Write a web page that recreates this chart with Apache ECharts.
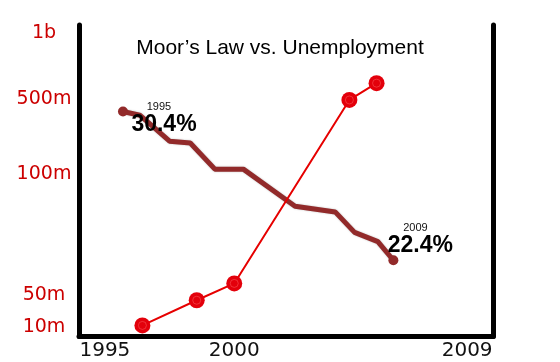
<!DOCTYPE html>
<html>
<head>
<meta charset="utf-8">
<script src="https://cdn.jsdelivr.net/npm/echarts@6/dist/echarts.min.js"></script>
<style>
  html, body { margin: 0; padding: 0; background: #fff; }
  #chart { width: 560px; height: 362px; }
</style>
</head>
<body>
<div id="chart"></div>
<script>
// ---- data ----
const titleText = 'Moor\u2019s Law vs. Unemployment';
const xTickYears = [1995, 2000, 2009];
const yTickLabels = ['10m', '50m', '100m', '500m', '1b'];
const yTickValues = [10, 50, 100, 500, 1000];          // millions
// hand-drawn (uneven) scale: where each tick sits, in % of the plot height
const yScaleStops = [3.05, 13.16, 52.0, 76.24, 97.43];

const chipYears = [1996.45, 1998.55, 2000, 2004.45, 2005.5];
const transistorsM = [12, 44, 55, 495, 620];

const unempYears = [1995.7, 1996.35, 1997.5, 1998.3, 1999.25, 2000.35, 2002.35, 2003.9, 2004.65, 2005.55, 2006.15];
const unempRate = [30.4, 30.2, 28.8, 28.7, 27.3, 27.3, 25.3, 25.0, 23.9, 23.4, 22.4];
const unempStartLabel = ['1995', '30.4%'];
const unempEndLabel = ['2009', '22.4%'];

// ---- scale helper (piecewise between the tick stops) ----
function toScale(v) {
  for (let i = 0; i < yTickValues.length - 1; i++) {
    const a = yTickValues[i], b = yTickValues[i + 1];
    if (v <= b || i === yTickValues.length - 2) {
      return yScaleStops[i] + (v - a) / (b - a) * (yScaleStops[i + 1] - yScaleStops[i]);
    }
  }
}

const redData = chipYears.map((x, i) => [x, toScale(transistorsM[i])]);

const richStyles = {
  a: { fontFamily: 'Liberation Sans, Arial, sans-serif', fontSize: 11, color: '#111', lineHeight: 13, padding: [0, 10, 0, 0] },
  b: { fontFamily: 'Liberation Sans, Arial, sans-serif', fontSize: 23, fontWeight: 'bold', color: '#000', lineHeight: 23 }
};
const last = unempYears.length - 1;
const brownData = unempYears.map((x, i) => {
  const item = { value: [x, unempRate[i]] };
  if (i === 0 || i === last) {
    const lab = i === 0 ? unempStartLabel : unempEndLabel;
    item.label = {
      show: true,
      position: 'inside',
      align: 'center',
      verticalAlign: 'middle',
      offset: i === 0 ? [41, 6.5] : [27, -20.7],
      formatter: '{a|' + lab[0] + '}\n{b|' + lab[1] + '}',
      rich: richStyles
    };
  }
  return item;
});

const chart = echarts.init(document.getElementById('chart'), null, { renderer: 'canvas' });
chart.setOption({
  animation: false,
  backgroundColor: '#fff',
  title: {
    text: titleText,
    left: 'center',
    top: 33,
    textStyle: { fontFamily: 'Liberation Sans, Arial, sans-serif', fontSize: 21, fontWeight: 'normal', color: '#000' }
  },
  grid: { left: 79, right: 67, top: 25, bottom: 25.5, containLabel: false, outerBoundsMode: 'none' },
  xAxis: [{
    type: 'value', min: 1994, max: 2010,
    axisLine: { show: true, lineStyle: { color: '#000', width: 5 } },
    axisTick: { show: false },
    splitLine: { show: false },
    axisLabel: {
      customValues: xTickYears,
      formatter: v => String(v),
      margin: 4,
      fontFamily: 'DejaVu Sans, sans-serif', fontSize: 20, color: '#111'
    }
  }],
  yAxis: [{
    type: 'value', min: 0, max: 100, position: 'left',
    axisLine: { show: true, lineStyle: { color: '#000', width: 5 } },
    axisTick: { show: false },
    splitLine: { show: false },
    axisLabel: {
      customValues: yScaleStops,
      formatter: v => { const i = yScaleStops.indexOf(v); return i >= 0 ? yTickLabels[i] : ''; },
      align: 'center',
      margin: 35,
      fontFamily: 'DejaVu Sans, sans-serif', fontSize: 19, color: '#cc0000'
    }
  }, {
    type: 'value', min: 18.3, max: 35.05, position: 'right',
    axisLine: { show: true, lineStyle: { color: '#000', width: 5 } },
    axisTick: { show: false },
    splitLine: { show: false },
    axisLabel: { show: false }
  }],
  series: [{
    name: 'Unemployment',
    type: 'line',
    xAxisIndex: 0, yAxisIndex: 1,
    data: brownData,
    symbol: 'circle',
    symbolSize: (v, p) => (p.dataIndex === 0 || p.dataIndex === last) ? 10 : 0,
    showSymbol: true,
    lineStyle: { color: '#922a2a', width: 5, shadowColor: 'rgba(0,0,0,0.25)', shadowBlur: 2 },
    itemStyle: { color: '#922a2a', borderWidth: 0 },
    z: 2
  }, {
    name: 'Transistors',
    type: 'line',
    xAxisIndex: 0, yAxisIndex: 0,
    data: redData,
    symbol: 'circle',
    symbolSize: 16,
    lineStyle: { color: '#e60000', width: 2 },
    itemStyle: { color: '#e3000b', borderWidth: 0 },
    z: 3
  }, {
    name: 'Transistors ring',
    type: 'scatter',
    xAxisIndex: 0, yAxisIndex: 0,
    data: redData,
    symbol: 'circle',
    symbolSize: 8,
    itemStyle: { color: 'rgba(0,0,0,0)', borderColor: 'rgba(255,110,110,0.55)', borderWidth: 1 },
    silent: true,
    z: 4
  }]
});
</script>
</body>
</html>
